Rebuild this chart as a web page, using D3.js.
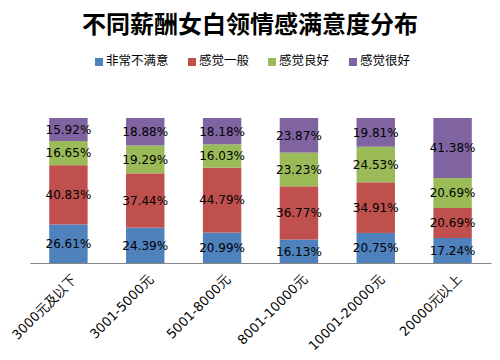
<!DOCTYPE html>
<html><head><meta charset="utf-8">
<script src="https://cdn.jsdelivr.net/npm/d3@7"></script>
<style>body{margin:0;background:#fff}</style>
</head><body>
<svg id="chart" width="500" height="360"></svg>
<script>
const categories = ["3000元及以下","3001-5000元","5001-8000元","8001-10000元","10001-20000元","20000元以上"];
const seriesNames = ["非常不满意","感觉一般","感觉良好","感觉很好"];
const veryUnsatisfied = [26.61,24.39,20.99,16.13,20.75,17.24];
const average = [40.83,37.44,44.79,36.77,34.91,20.69];
const good = [16.65,19.29,16.03,23.23,24.53,20.69];
const veryGood = [15.92,18.88,18.18,23.87,19.81,41.38];
const colors = ["#4F81BD","#C0504D","#9BBB59","#8064A2"];

const seriesValues = [veryUnsatisfied, average, good, veryGood];
const rows = categories.map((c,i)=>{
  const r = {cat:c};
  seriesNames.forEach((s,j)=>r[s]=seriesValues[j][i]);
  return r;
});
const svg = d3.select("#chart");
const x = d3.scaleBand().domain(categories).range([30,491]).paddingInner(0.5).paddingOuter(0.25);
const y = d3.scaleLinear().domain([0,100]).range([263,118]);
const stack = d3.stack().keys(seriesNames)(rows);

svg.append("text").attr("x",250).attr("y",33).attr("text-anchor","middle")
  .attr("font-family","'Noto Sans CJK SC'").attr("font-weight","bold").attr("font-size",24)
  .attr("fill","#000").text("不同薪酬女白领情感满意度分布");

// legend
const legX = [95,188,268,349];
seriesNames.forEach((s,j)=>{
  svg.append("rect").attr("x",legX[j]).attr("y",58).attr("width",8).attr("height",8).attr("fill",colors[j]);
  svg.append("text").attr("x",legX[j]+11).attr("y",65).attr("font-family","'Noto Sans CJK SC'")
    .attr("font-size",12.5).attr("fill","#000").text(s);
});

stack.forEach((layer,j)=>{
  const g = svg.append("g");
  g.selectAll("rect").data(layer).enter().append("rect")
    .attr("x",d=>x(d.data.cat)).attr("width",x.bandwidth())
    .attr("y",d=>y(d[1])).attr("height",d=>y(d[0])-y(d[1]))
    .attr("fill",colors[j]);
  g.selectAll("text").data(layer).enter().append("text")
    .attr("x",d=>x(d.data.cat)+x.bandwidth()/2)
    .attr("y",d=>(y(d[0])+y(d[1]))/2).attr("dy","0.36em")
    .attr("text-anchor","middle").attr("font-family","'DejaVu Sans'").attr("font-size",12)
    .attr("fill","#000").text(d=>(d[1]-d[0]).toFixed(2)+"%");
});

const axis = svg.append("g").attr("transform","translate(0,263)")
  .call(d3.axisBottom(x).tickSize(0).tickSizeOuter(0).tickPadding(0));
axis.select(".domain").attr("stroke","#868686").attr("stroke-width",1);
axis.selectAll(".tick text")
  .attr("font-family","'DejaVu Sans'").attr("font-size",13).attr("fill","#000")
  .attr("text-anchor","end")
  .attr("transform","translate(6,14) rotate(-45)")
  .attr("dy","0.35em").attr("y",0);
</script>
</body></html>
